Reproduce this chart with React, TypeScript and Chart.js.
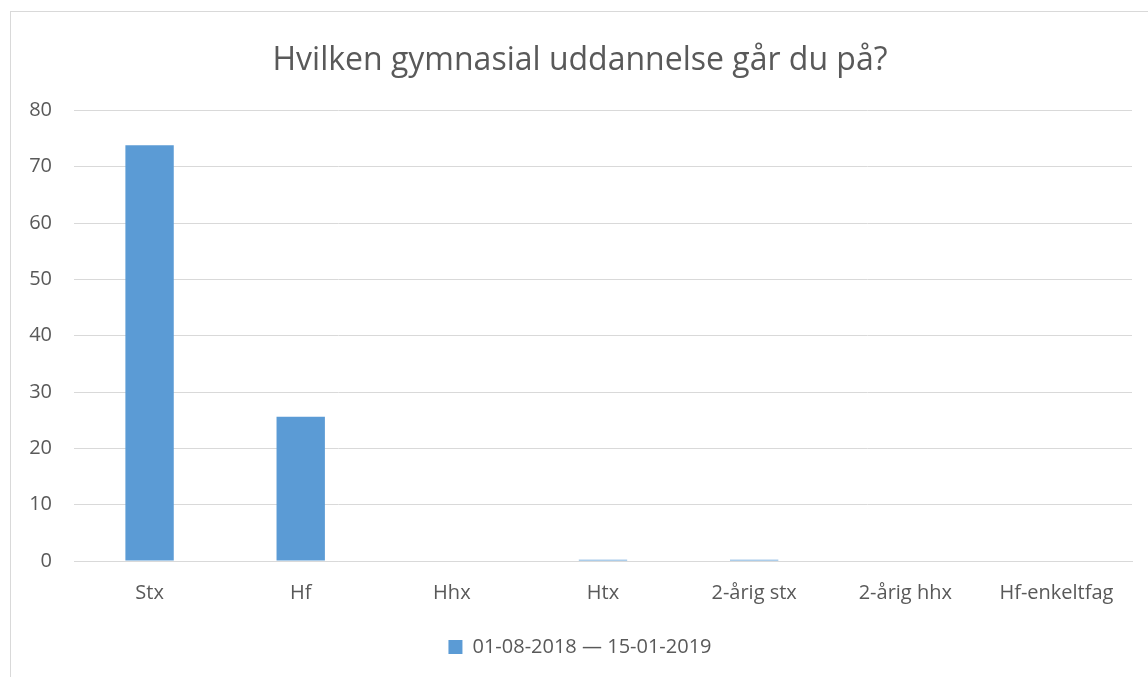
import React, { useEffect, useRef } from "react";
import { Chart, registerables } from "chart.js";

Chart.register(...registerables);

const categories = ["Stx", "Hf", "Hhx", "Htx", "2-årig stx", "2-årig hhx", "Hf-enkeltfag"];
const seriesLabel = "01-08-2018 — 15-01-2019";
const seriesValues = [73.8, 25.6, 0, 0.2, 0.2, 0, 0];
const titleText = "Hvilken gymnasial uddannelse går du på?";

const FONT = "'Open Sans', Lato, sans-serif";
const TEXT = "#595959";
const BLUE = "#5B9BD5";

export default function App() {
  const ref = useRef<HTMLCanvasElement | null>(null);
  useEffect(() => {
    if (!ref.current) return;
    const chart = new Chart(ref.current, {
      type: "bar",
      data: {
        labels: categories,
        datasets: [
          {
            label: seriesLabel,
            data: seriesValues,
            backgroundColor: BLUE,
            borderWidth: 0,
            barPercentage: 0.32,
            categoryPercentage: 1,
          },
        ],
      },
      options: {
        animation: false,
        responsive: false,
        maintainAspectRatio: false,
        layout: { padding: { left: 17, right: 49, top: 0, bottom: 15 } },
        plugins: {
          title: {
            display: true,
            text: titleText,
            color: TEXT,
            font: { family: FONT, size: 32, weight: "normal" },
            padding: { top: 30, bottom: 30 },
          },
          legend: {
            position: "bottom",
            labels: {
              color: TEXT,
              font: { family: FONT, size: 20 },
              boxWidth: 14,
              boxHeight: 14,
              padding: 12,
            },
          },
          tooltip: { enabled: false },
        },
        scales: {
          x: {
            grid: { display: false, drawTicks: false },
            border: { display: true, color: "#d9d9d9", width: 1 },
            ticks: { color: TEXT, font: { family: FONT, size: 20 }, padding: 20, maxRotation: 0 },
          },
          y: {
            min: 0,
            max: 80,
            afterFit: (scale: any) => {
              scale.width = 46;
            },
            grid: { color: "#d9d9d9", lineWidth: 1, drawTicks: false },
            border: { display: false },
            ticks: { stepSize: 10, color: TEXT, font: { family: FONT, size: 20 }, padding: 22 },
          },
        },
      },
    });
    return () => chart.destroy();
  }, []);
  return (
    <div style={{ position: "fixed", left: 0, top: 0, width: 1148, height: 677, overflow: "hidden", background: "#fff" }}>
      <div
        style={{
          position: "absolute",
          left: 10,
          top: 11,
          width: 1172,
          height: 690,
          border: "1px solid #d9d9d9",
          boxSizing: "border-box",
        }}
      >
        <canvas ref={ref} width={1170} height={670} style={{ display: "block" }} />
      </div>
    </div>
  );
}
